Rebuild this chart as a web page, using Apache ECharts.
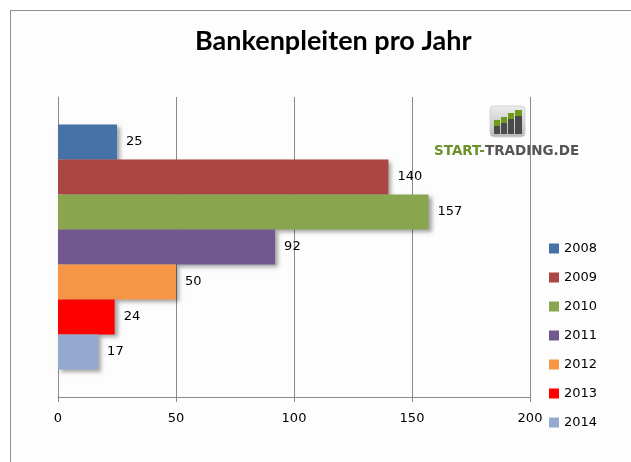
<!DOCTYPE html>
<html>
<head>
<meta charset="utf-8">
<title>Bankenpleiten pro Jahr</title>
<script src="https://cdn.jsdelivr.net/npm/echarts@6/dist/echarts.min.js"></script>
<style>
  html, body { margin: 0; padding: 0; background: #ffffff; }
  .wrap { position: relative; width: 631px; height: 462px; overflow: hidden; }
  .frame {
    position: absolute; left: 10px; top: 10px; width: 700px; height: 500px;
    border-left: 1px solid #8e8e8e; border-top: 1px solid #8e8e8e;
    background: #fcfdfc;
  }
  #chart { position: absolute; left: 0; top: 0; width: 631px; height: 462px; }
</style>
</head>
<body>
<div class="wrap">
  <div class="frame"></div>
  <div id="chart"></div>
</div>
<script>
  // Daten
  const years = ['2008', '2009', '2010', '2011', '2012', '2013', '2014']
  const failures = [25, 140, 157, 92, 50, 24, 17]
  const barColors = ['#4572a7', '#aa4643', '#89a54e', '#71588f', '#f79646', '#ff0000', '#95a9ce']
  const categories = ['']
  const axisMin = 0
  const axisMax = 200
  const axisStep = 50

  const gridColor = '#8a8a8a'

  let chart = echarts.init(document.getElementById('chart'))

  let series = years.map((year, i) => {
    return {
      name: year,
      type: 'bar',
      barWidth: 35,
      barGap: '0%',
      data: [failures[i]],
      itemStyle: {
        color: barColors[i],
        shadowColor: 'rgba(0, 0, 0, 0.35)',
        shadowBlur: 4,
        shadowOffsetX: 3,
        shadowOffsetY: 2
      },
      label: {
        show: true,
        position: 'right',
        distance: 9,
        color: '#000',
        fontSize: 13,
        fontFamily: 'DejaVu Sans'
      },
      emphasis: { disabled: true }
    }
  })

  // kleines Logo oben rechts
  let iconBars = [
    { x: 494, w: 6, top: 120 },
    { x: 501, w: 6, top: 117 },
    { x: 508, w: 6, top: 113 },
    { x: 515, w: 7, top: 110 }
  ]
  let logo = [
    {
      type: 'rect',
      shape: { x: 490, y: 106, width: 35, height: 31, r: 4 },
      style: {
        fill: new echarts.graphic.LinearGradient(0, 0, 0, 1, [
          { offset: 0, color: '#ececec' },
          { offset: 1, color: '#b9b9b9' }
        ]),
        stroke: '#d4d4d4'
      }
    }
  ]
  iconBars.forEach(b => {
    logo.push({
      type: 'rect',
      shape: { x: b.x, y: b.top, width: b.w, height: 6 },
      style: { fill: '#6f9a1c' }
    })
    logo.push({
      type: 'rect',
      shape: { x: b.x, y: b.top + 6, width: b.w, height: 134 - b.top - 6 },
      style: { fill: '#4a4a4a' }
    })
  })
  logo.push({
    type: 'text',
    x: 434,
    y: 151,
    style: {
      text: '{g|START-}{d|TRADING.DE}',
      verticalAlign: 'middle',
      rich: {
        g: { fontFamily: 'DejaVu Sans', fontWeight: 'bold', fontSize: 13.5, fill: '#6d9128' },
        d: { fontFamily: 'DejaVu Sans', fontWeight: 'bold', fontSize: 13.5, fill: '#555555' }
      }
    }
  })

  let option = {
    animation: false,
    title: {
      text: 'Bankenpleiten pro Jahr',
      left: 190,
      top: 23,
      textStyle: {
        fontFamily: 'Lato',
        fontWeight: 'bold',
        fontSize: 27,
        color: '#000'
      }
    },
    legend: {
      orient: 'vertical',
      left: 549,
      top: 242,
      padding: 0,
      itemWidth: 10,
      itemHeight: 10,
      itemGap: 16,
      icon: 'rect',
      selectedMode: false,
      data: years,
      textStyle: {
        fontFamily: 'DejaVu Sans',
        fontSize: 13,
        color: '#000'
      }
    },
    grid: {
      left: 58,
      right: 101,
      top: 97,
      bottom: 65,
      containLabel: false
    },
    xAxis: {
      type: 'value',
      min: axisMin,
      max: axisMax,
      interval: axisStep,
      axisLine: { show: true, lineStyle: { color: gridColor } },
      axisTick: { show: true, length: 5, lineStyle: { color: gridColor } },
      splitLine: { show: true, lineStyle: { color: gridColor, type: 'solid' } },
      axisLabel: {
        margin: 15,
        color: '#000',
        fontSize: 13,
        fontFamily: 'DejaVu Sans'
      }
    },
    yAxis: {
      type: 'category',
      data: categories,
      axisLine: { show: true, lineStyle: { color: gridColor } },
      axisTick: { show: false },
      axisLabel: { show: false }
    },
    graphic: logo,
    series: series
  }

  chart.setOption(option)
</script>
</body>
</html>
